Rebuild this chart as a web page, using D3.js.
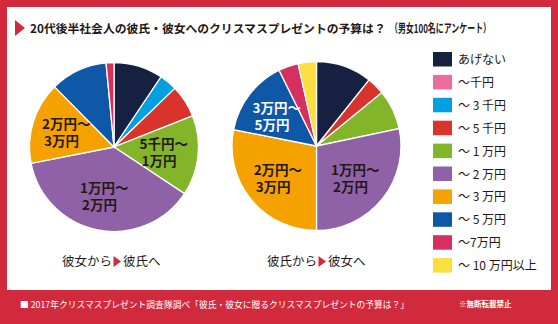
<!DOCTYPE html>
<html><head><meta charset="utf-8">
<script src="https://cdn.jsdelivr.net/npm/d3@7"></script>
<style>body{margin:0;background:#fff}svg{display:block}</style>
</head><body><svg id="c" width="558" height="324"></svg>
<script>
// ---- data ----
const categories = ["あげない","～千円","～ 3 千円","～ 5 千円","～ 1 万円","～ 2 万円","～ 3 万円","～ 5 万円","～7万円","～ 10 万円以上"];
const colors = ["#162040","#ec6d9b","#00a0e0","#d9342b","#82b52a","#8f62a8","#f5a200","#0f58a8","#d63063","#fedd3f"];
const womenToMen = [9.4, 0, 3.4, 6.2, 15.3, 37.6, 15.7, 10.9, 1.5, 0];
const menToWomen = [10.7, 0, 0, 3.4, 7.6, 28.3, 28.1, 14.6, 3.8, 3.5];
const leftLabels = {4:["5千円～","1万円"],5:["1万円～","2万円"],6:["2万円～","3万円"]};
const rightLabels = {5:["1万円～","2万円"],6:["2万円～","3万円"],7:["3万円～","5万円"]};
const titleMain = "20代後半社会人の彼氏・彼女へのクリスマスプレゼントの予算は？";
const titleSub = "（男女100名にアンケート）";
const captionLeft = ["彼女から","彼氏へ"];
const captionRight = ["彼氏から","彼女へ"];
const footer = "■ 2017年クリスマスプレゼント調査隊調べ「彼氏・彼女に贈るクリスマスプレゼントの予算は？」";
const footerNote = "※無断転載禁止";

// ---- drawing ----
const svg = d3.select("#c");
const FONT = "'Noto Sans CJK JP','Noto Sans',sans-serif";
const RED = "#d12a3c";
const INK = "#231815";
svg.append("rect").attr("width",558).attr("height",324).attr("fill",RED);
svg.append("rect").attr("x",7).attr("y",7).attr("width",544).attr("height",283).attr("fill","#fff");

function fitText(sel, width, maxSize){
  sel.attr("font-size", maxSize);
  const w = sel.node().getComputedTextLength();
  if (w > width) sel.attr("font-size", maxSize * width / w);
  return sel;
}

// title
svg.append("path").attr("d","M15,20 L25,28 L15,36 Z").attr("fill",RED);
fitText(svg.append("text").attr("x",30).attr("y",33).attr("font-family",FONT).attr("font-weight",700)
  .attr("fill",INK).text(titleMain), 356, 14);
svg.append("text").attr("x",390).attr("y",33).attr("font-family",FONT).attr("font-weight",700)
  .attr("font-size",12).attr("fill",INK).attr("textLength",101).attr("lengthAdjust","spacingAndGlyphs").text(titleSub);

const R = 84.5;
const pie = d3.pie().sort(null).value(d=>d);
const arc = d3.arc().innerRadius(0).outerRadius(R);
const labelArc = d3.arc().innerRadius(50).outerRadius(50);

function drawPie(cx, cy, values, labels, whiteIdx){
  const g = svg.append("g").attr("transform",`translate(${cx},${cy})`);
  const arcs = pie(values);
  g.selectAll("path").data(arcs.filter(a=>a.value>0)).join("path")
    .attr("d",arc).attr("fill",d=>colors[d.index]).attr("stroke","#fff").attr("stroke-width",1.3);
  arcs.forEach(a=>{
    const lines = labels[a.index];
    if(!lines) return;
    const [x,y] = labelArc.centroid(a);
    const fill = whiteIdx===a.index ? "#fff" : INK;
    const t = g.append("text").attr("font-family",FONT).attr("font-weight",700).attr("font-size",13.5)
      .attr("fill",fill);
    const s1 = t.append("tspan").text(lines[0]);
    const w = s1.node().getComputedTextLength();
    s1.attr("x", x - w/2).attr("y", y - 3);
    t.append("tspan").attr("x", x - w/2 + 2).attr("y", y + 14).text(lines[1]);
  });
}
drawPie(114, 147, womenToMen, leftLabels, -1);
drawPie(316.5, 146, menToWomen, rightLabels, 7);

// captions
function caption(x, parts){
  const t = svg.append("text").attr("x",x).attr("y",266).attr("font-family",FONT).attr("font-size",12.5).attr("fill",INK);
  t.append("tspan").text(parts[0]);
  const w = t.node().getComputedTextLength();
  t.append("tspan").attr("dx",11).text(parts[1]);
  svg.append("path").attr("d",`M${x+w+1.5},256 L${x+w+9},261.5 L${x+w+1.5},267 Z`).attr("fill",RED);
}
caption(62, captionLeft);
caption(267, captionRight);

// legend
const lg = svg.append("g").attr("transform","translate(433,52)");
categories.forEach((c,i)=>{
  const row = lg.append("g").attr("transform",`translate(0,${i*22.9})`);
  row.append("rect").attr("width",19).attr("height",14.5).attr("fill",colors[i]);
  row.append("text").attr("x",25).attr("y",12).attr("font-family",FONT).attr("font-size",12)
    .attr("fill",INK).text(c);
});

// footer
fitText(svg.append("text").attr("x",20).attr("y",308).attr("font-family",FONT)
  .attr("fill","#fff").text(footer), 390, 10.5);
svg.append("text").attr("x",459).attr("y",307).attr("font-family",FONT).attr("font-weight",700).attr("font-size",7.5)
  .attr("fill","#fff").text(footerNote);
</script></body></html>
